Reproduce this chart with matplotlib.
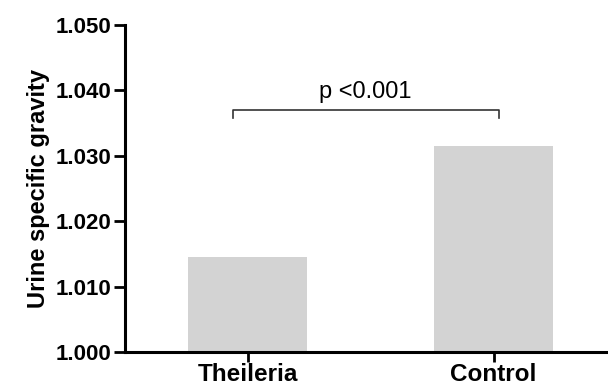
import matplotlib
matplotlib.use('Agg')
import matplotlib.pyplot as plt

groups = ['Theileria', 'Control']
values = [1.0145, 1.0315]
yticks = [1.000, 1.010, 1.020, 1.030, 1.040, 1.050]
p_text = 'p <0.001'
bracket_y = 1.037
bracket_drop = 0.0012

plt.rcParams['font.family'] = ['Liberation Sans', 'DejaVu Sans']

fig = plt.figure(figsize=(6.08, 3.89), dpi=100)
ax = fig.add_axes([0.2056, 0.095, 0.7944, 0.841])

x = list(range(len(groups)))
ax.bar(x, [v - 1.0 for v in values], bottom=1.0, width=0.484, color='#d3d3d3')

ax.set_ylim(1.000, 1.050)
ax.set_xlim(-0.498, 1.465)
ax.set_yticks(yticks)
ax.set_yticklabels(['%.3f' % t for t in yticks], fontsize=16, fontweight='bold')
ax.set_xticks(x)
ax.set_xticklabels(groups, fontsize=17.5, fontweight='bold')
ax.set_ylabel('Urine specific gravity', fontsize=17, fontweight='bold', labelpad=4)

for s in ['top', 'right']:
    ax.spines[s].set_visible(False)
for s in ['left', 'bottom']:
    ax.spines[s].set_linewidth(2.2)
ax.tick_params(axis='y', length=8, width=2, pad=2)
ax.tick_params(axis='x', length=7, width=2, pad=1)

# significance bracket
x1, x2 = -0.06, 1.02
ax.plot([x1, x1, x2, x2], [bracket_y - bracket_drop, bracket_y, bracket_y, bracket_y - bracket_drop],
        color='#333333', lw=1.2, clip_on=False)
ax.text((x1 + x2) / 2, 1.0388, p_text, ha='center', va='baseline', fontsize=17)

fig.savefig('out.png', dpi=100)
